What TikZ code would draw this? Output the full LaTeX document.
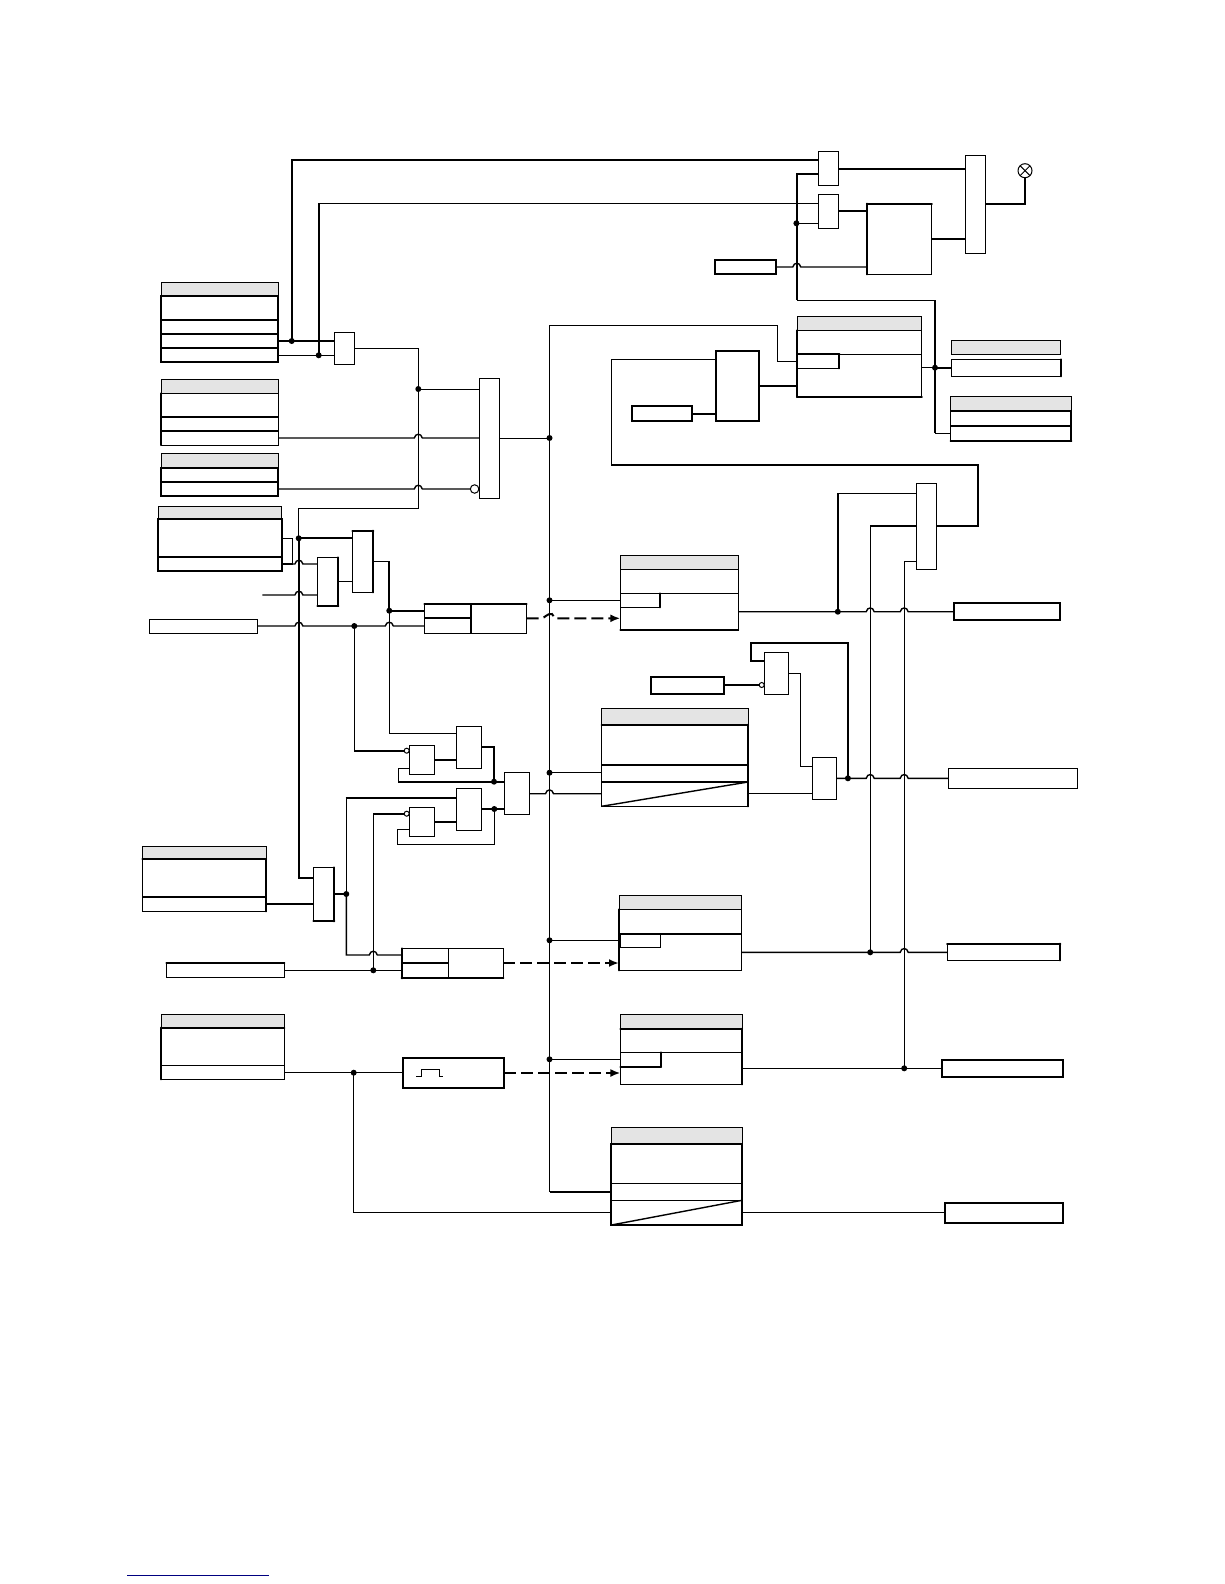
\documentclass[tikz,border=0pt]{standalone}
\usetikzlibrary{arrows.meta}
\definecolor{hdrgray}{HTML}{E4E4E4}
\definecolor{footnavy}{HTML}{000080}
\newcommand{\bx}[6][]{\node[boxn,#1,minimum width={(#4-#2)*1pt},minimum height={(#5-#3)*1pt}] (#6) at ({(#2+#4)/2},{(#3+#5)/2}) {};}
\newcommand{\hp}[2]{-- ({#1-4},{#2}) .. controls ({#1-3},{#2-5}) and ({#1+3},{#2-5}) .. ({#1+4},{#2})}
\newcommand{\jn}[3]{\node[jdot] (#1) at (#2,#3) {};}
\newcommand{\ed}[3]{\draw[lb,line cap=round] (#1.#2) -- (#1.#3);}
\newcommand{\dv}[3]{\draw[#3] (#1.west |- 0,#2) -- (#1.east |- 0,#2);}
\begin{document}
\begin{tikzpicture}[x=1pt,y=-1pt,
  boxn/.style={draw=black,fill=white,line width=1pt,inner sep=0pt,outer sep=0pt,rectangle},
  boxt/.style={line width=2pt},
  hdr/.style={fill=hdrgray},
  ln/.style={draw=black,line width=1pt,line join=miter},
  lm/.style={draw=black,line width=1.4pt,line join=miter},
  lb/.style={draw=black,line width=2pt,line join=miter},
  jdot/.style={circle,fill=black,draw=none,minimum size=6pt,inner sep=0pt,outer sep=0pt},
  ncirc/.style={circle,draw=black,fill=white,line width=1pt,inner sep=0pt,outer sep=0pt},
  dsh/.style={draw=black,line width=2pt,dash pattern=on 12pt off 5pt,-{Latex[length=10pt,width=8pt]}}]
\useasboundingbox (0,0) rectangle (1224,1584);
% ---------- left tables
\bx[hdr]{161.3}{282.7}{278.3}{295.3}{Ah}
\bx[boxt]{161.3}{295.5}{278}{361.7}{A}
\dv{A}{320}{lb}\dv{A}{333.7}{lb}\dv{A}{348}{lb}
\bx[hdr]{161.3}{379.3}{278.3}{393.3}{Bh}
\bx{161.3}{393.3}{278.3}{445}{B}
\ed{B}{north west}{south west}\dv{B}{416.7}{lb}\dv{B}{431}{lb}
\bx[hdr]{161.3}{453.3}{278.3}{467.7}{Ch}
\bx[boxt]{161.3}{467.7}{278.3}{496}{Cb}
\dv{Cb}{481.7}{lb}
\bx[hdr]{158.3}{506.7}{281.7}{519.3}{Dh}
\bx[boxt]{158}{519.3}{281.7}{571}{Db}
\dv{Db}{556.7}{lb}
\bx{149}{619.3}{257.7}{633.3}{F}
\bx[hdr]{142.3}{846.3}{266.2}{859.3}{Qh}
\bx{142.3}{859.3}{266.2}{911.3}{Q}
\ed{Q}{north west}{north east}\ed{Q}{north east}{south east}\dv{Q}{897}{lb}
\bx{166.3}{962.7}{284.3}{977.3}{T}
\ed{T}{north west}{north east}
\bx[hdr]{161.3}{1014.3}{284.3}{1027.7}{Uh}
\bx{161.3}{1027.7}{284.3}{1079.3}{U}
\ed{U}{north west}{north east}\ed{U}{north west}{south west}\dv{U}{1065.7}{ln}
% ---------- left gates
\bx{334.3}{332.3}{354.3}{364.3}{GA}
\bx{479.3}{378.3}{499.3}{498.3}{H}
\bx{317.3}{557.3}{338.3}{606}{E}
\ed{E}{north east}{south east}\ed{E}{south west}{south east}
\bx{352.3}{530.7}{373.3}{592.3}{J}
\ed{J}{north west}{north east}\ed{J}{north east}{south east}
\bx{424.3}{603.8}{526.7}{633.3}{K}
\ed{K}{north west}{north east}
\node[inner sep=0pt] (Kd) at (471,618.3) {};
\draw[lb] (K.north -| Kd) -- (K.south -| Kd);
\draw[lb] (K.west |- Kd) -- (Kd);
\bx{409.3}{745.3}{434.7}{774.3}{LA}
\bx{456.3}{726.3}{481.7}{768.3}{MA}
\bx{504.3}{772.3}{529.7}{814.3}{N}
\bx{409.3}{807.3}{434.7}{836.3}{LB}
\bx{456.3}{788.3}{481.7}{830.3}{MB}
\bx{313.3}{867.3}{334.3}{921.3}{R}
\ed{R}{north east}{south east}\ed{R}{south west}{south east}
\bx{401.7}{948.3}{503.3}{978.3}{S}
\ed{S}{north west}{south west}\ed{S}{south west}{south east}
\node[inner sep=0pt] (Sd) at (448.3,963.3) {};
\draw[ln] (S.north -| Sd) -- (S.south -| Sd);
\draw[lb] (S.west |- Sd) -- (Sd);
\bx[boxt]{402.7}{1058.3}{504.3}{1088}{V}
\draw[ln] (416,1076.7) -- (421,1076.7) -- (421,1069.3) -- (439,1069.3) -- (439,1076.7) -- (443.3,1076.7);
% ---------- top right
\bx{818.2}{151.3}{838.6}{185.3}{TGA}
\bx{818.2}{194.3}{838.6}{228.3}{TGB}
\bx{965.4}{155.3}{985.7}{253.3}{TGC}
\bx{866.8}{203.7}{931.8}{274.3}{Big}
\ed{Big}{north west}{north east}\ed{Big}{north west}{south west}
\bx[boxt]{714.6}{260}{776.4}{274.3}{Sm}
\node[ncirc,minimum size=14pt] (Lamp) at (1025,170.7) {};
\draw[ln] (Lamp.north west) -- (Lamp.south east);
\draw[ln] (Lamp.north east) -- (Lamp.south west);
\bx[hdr]{797.1}{316.3}{921.8}{330.3}{Yh}
\bx{797.1}{330.3}{921.8}{397}{Y}
\ed{Y}{north west}{south west}\ed{Y}{south west}{south east}\dv{Y}{354.3}{ln}
\bx{797.1}{354.3}{839.3}{368.3}{Ys}
\ed{Ys}{north east}{south east}\ed{Ys}{north west}{north east}
\bx[boxt]{716}{351}{759}{421}{Z}
\draw[ln] (Z.north west) -- (Z.south west);
\bx[boxt]{632}{406.3}{692}{421}{Zs}
\bx[hdr]{951.4}{340.3}{1060.7}{354.3}{ABh}
\bx{951.4}{359.3}{1060.7}{376.3}{AB}
\ed{AB}{north east}{south east}
\bx[hdr]{950.7}{396.3}{1071.4}{411}{ACh}
\bx{950.7}{411}{1071.4}{441}{AC}
\ed{AC}{north east}{south east}\ed{AC}{south west}{south east}\dv{AC}{411}{lb}\dv{AC}{425.7}{lb}
% ---------- mid right
\bx{916.4}{483.3}{936.7}{569.3}{AA}
\bx[hdr]{620.3}{555.3}{738}{569.3}{Wh}
\bx{620.3}{569.3}{738}{630}{W}
\ed{W}{south west}{south east}\dv{W}{593.3}{ln}
\bx{620.3}{593.3}{659.6}{607.3}{Ws}
\ed{Ws}{north east}{south east}
\bx[boxt]{954}{602.7}{1060.4}{620.3}{AD}
\bx{764.6}{652.3}{788.9}{694.3}{AE}
\bx[boxt]{650.7}{676.7}{724}{694.3}{AF}
\bx{812.5}{757.3}{836.8}{799.3}{AG}
\bx{948.2}{768.3}{1077.5}{788.3}{AH}
\bx[hdr]{601.6}{708.7}{748}{724.7}{Ph}
\bx{601.6}{724.7}{748}{806.3}{P}
\ed{P}{north west}{north east}\ed{P}{north east}{south east}\dv{P}{765}{lb}\dv{P}{782}{lb}
\draw[lm] (P.south west) -- (P.east |- 0,782);
% ---------- lower right
\bx[hdr]{619}{895.3}{741.4}{909.3}{Xh}
\bx{619}{909.3}{741.4}{970.3}{X}
\ed{X}{north west}{south west}\dv{X}{933.7}{lb}
\bx{620}{933.7}{660.7}{947.3}{Xs}
\ed{Xs}{north west}{north east}
\bx{947}{943.7}{1060.4}{960.3}{AI}
\ed{AI}{north west}{north east}\ed{AI}{north east}{south east}
\bx[hdr]{620.4}{1014.3}{742}{1028.7}{AJh}
\bx{620.4}{1028.7}{742}{1084.3}{AJ}
\ed{AJ}{north west}{north east}\ed{AJ}{north east}{south east}\dv{AJ}{1052.3}{ln}
\bx{620.4}{1052.3}{661}{1066.7}{AJs}
\ed{AJs}{north east}{south east}\ed{AJs}{south west}{south east}
\bx[boxt]{941.7}{1060}{1063.2}{1077}{AK}
\bx[hdr]{611.4}{1127.3}{742}{1143.7}{ALh}
\bx[boxt]{611.4}{1143.7}{742}{1225}{AL}
\dv{AL}{1183}{ln}\dv{AL}{1200.3}{ln}
\draw[lm] (AL.south west) -- (AL.east |- 0,1200.3);
\bx[boxt]{944.6}{1202.7}{1063.2}{1222.7}{AM}
% ---------- junction dots
\jn{da}{291.7}{341}\jn{db}{318.7}{355.3}\jn{dc}{418.3}{389}
\jn{dd}{298.7}{538.3}\jn{de}{354.3}{626}\jn{df}{389.3}{610.7}
\jn{dg}{494}{781.7}\jn{dh}{494.3}{809}\jn{di}{346.3}{894}
\jn{dj}{373.3}{970.3}\jn{dk}{353.7}{1072.7}
\jn{ba}{549.5}{438}\jn{bb}{549.5}{600.3}\jn{bc}{549.5}{772.7}\jn{bd}{549.5}{940.3}\jn{be}{549.5}{1059.3}
\jn{dl}{796.4}{223.3}\jn{dm}{935}{367.7}
\jn{dn}{837.8}{611.7}\jn{dp}{847.9}{778.3}\jn{dq}{870.2}{952.3}\jn{dr}{904.2}{1068.3}
% ---------- negation circles
\node[ncirc,minimum size=8.5pt] (cH) at (474.6,489) {};
\node[ncirc,minimum size=5pt] (cLA) at (406.7,750.7) {};
\node[ncirc,minimum size=5pt] (cLB) at (406.7,813.7) {};
\node[ncirc,minimum size=5pt] (cAE) at (761.7,685) {};
% ---------- connectors: upper left
\draw[lb] (A.east |- da) -- (GA.west |- da);
\draw[ln] (A.east |- db) -- (GA.west |- db);
\draw[lb] (da.center) -- (da.center |- 0,160) -- (TGA.west |- 0,160);
\draw[lb] (db.center) -- (db.center |- 0,203);
\draw[ln] (db.center |- 0,203) -- (TGB.west |- 0,203);
\draw[ln] (GA.east |- 0,348.3) -- (418.3,348.3) -- (418.3,508.3) -- (298.7,508.3) -- (dd.center);
\draw[lb] (dd.center) -- (298.7,878.3) -- (R.west |- 0,878.3);
\draw[ln] (dc.center) -- (H.west |- dc);
\draw[lm] (B.east |- 0,438) \hp{418.3}{438} -- (H.west |- 0,438);
\draw[lm] (Cb.east |- 0,489) \hp{418.3}{489} -- (cH);
\draw[ln] (H.east |- ba) -- (ba.center);
\draw[ln] (Db.east |- 0,538.3) -- (292.7,538.3) -- (292.7,564);
\draw[lb] (Db.east |- 0,564) -- (292.7,564);
\draw[lm] (292.7,564) \hp{298.9}{564} -- (E.west |- 0,564);
\coordinate (eb) at (262.3,595);
\draw[lm] (eb) \hp{298.9}{595} -- (E.west |- eb);
\draw[lb] (dd.center) -- (J.west |- dd);
\draw[ln] (E.east |- 0,581.3) -- (J.west |- 0,581.3);
\draw[ln] (J.east |- 0,561.3) -- (389.3,561.3);
\draw[lb] (389.3,561.3) -- (df.center);
\draw[lb] (df.center) -- (K.west |- df);
\draw[lm] (F.east |- de) \hp{298.9}{626} -- (de.center) \hp{389.3}{626} -- (K.west |- de);
\draw[ln] (de.center) -- (354.3,750.7);
\draw[lb] (354.3,750.7) -- (cLA);
\draw[ln] (df.center) -- (389.3,733.3) -- (MA.west |- 0,733.3);
% ---------- connectors: flip-flop group
\draw[lb] (LA.east |- 0,759.7) -- (MA.west |- 0,759.7);
\draw[lb] (MA.east |- 0,746.7) -- (494,746.7) -- (dg.center);
\draw[lb] (dg.center) -- (N.west |- dg);
\draw[lb] (dg.center) -- (398.3,781.7);
\draw[ln] (398.3,781.7) -- (398.3,768.3) -- (LA.west |- 0,768.3);
\draw[lm] (di.center) -- (346.3,798);
\draw[lb] (345.6,798) -- (MB.west |- 0,798);
\draw[lb] (373.3,813.7) -- (cLB);
\draw[ln] (dj.center) -- (373.3,813.7);
\draw[lb] (LB.east |- 0,822) -- (MB.west |- 0,822);
\draw[lb] (MB.east |- dh) -- (dh.center) -- (N.west |- dh);
\draw[ln] (dh.center) -- (494.3,844.3) -- (397.3,844.3) -- (397.3,829.3) -- (LB.west |- 0,829.3);
\draw[lm] (N.east |- 0,793.7) \hp{549.5}{793.7} -- (P.west |- 0,793.7);
\draw[lm] (bc.center) -- (P.west |- bc);
% ---------- connectors: lower left
\draw[lb] (Q.east |- 0,903.7) -- (R.west |- 0,903.7);
\draw[lm] (R.east |- di) -- (di.center);
\draw[lm] (di.center) -- (346.3,955) \hp{373.3}{955} -- (S.west |- 0,955);
\draw[lm] (T.east |- dj) -- (dj.center) -- (S.west |- dj);
\draw[lm] (U.east |- dk) -- (dk.center) -- (V.west |- dk);
\draw[ln] (dk.center) -- (353.7,1212.3) -- (AL.west |- 0,1212.3);
% ---------- dashed arrows
\draw[dsh] (K.east |- 0,618.3) -- (541,618.3) .. controls (545,618.3) and (547,613) .. (552,614) -- (555,618.3) -- (W.west |- 0,618.3);
\draw[dsh] (S.east |- 0,963) -- (X.west |- 0,963);
\draw[dsh] (V.east |- 0,1073) -- (AJ.west |- 0,1073);
% ---------- bus
\draw[ln] (Y.west |- 0,361.3) -- (777.5,361.3) -- (777.5,325.3) -- (549.5,325.3) -- (be.center);
\draw[ln] (be.center) -- (549.5,1191.7);
\draw[lb] (549.5,1191.7) -- (AL.west |- 0,1191.7);
\draw[ln] (bb.center) -- (W.west |- bb);
\draw[ln] (bd.center) -- (X.west |- bd);
\draw[ln] (be.center) -- (AJ.west |- be);
% ---------- connectors: top right
\draw[lb] (TGA.west |- 0,173.7) -- (796.8,173.7) -- (796.8,300.3);
\draw[ln] (796.8,300.3) -- (935,300.3);
\draw[lb] (935,300.3) -- (dm.center) -- (935,433.3);
\draw[ln] (935,433.3) -- (AC.west |- 0,433.3);
\draw[ln] (dl.center) -- (TGB.west |- dl);
\draw[lm] (TGA.east |- 0,169) -- (TGC.west |- 0,169);
\draw[lm] (TGB.east |- 0,211) -- (Big.west |- 0,211);
\draw[lb] (Big.east |- 0,238.7) -- (TGC.west |- 0,238.7);
\draw[lm] (Sm.east |- 0,267) \hp{796.8}{267} -- (Big.west |- 0,267);
\draw[lb] (TGC.east |- 0,203.7) -- (1025,203.7) -- (Lamp);
\draw[lm] (Y.east |- dm) -- (dm.center);
\draw[lb] (dm.center) -- (AB.west |- dm);
\draw[lm] (Z.east |- 0,386) -- (Y.west |- 0,386);
\draw[lb] (Zs.east |- 0,413.7) -- (Z.west |- 0,413.7);
\draw[ln] (Z.west |- 0,359.3) -- (611.4,359.3) -- (611.4,464.7);
\draw[lb] (611.4,464.7) -- (977.9,464.7) -- (977.9,525.7) -- (AA.east |- 0,525.7);
% ---------- connectors: right
\draw[ln] (AA.west |- 0,493.3) -- (837.8,493.3);
\draw[lb] (837.8,493.3) -- (dn.center);
\draw[lb] (AA.west |- 0,525.7) -- (870.2,525.7);
\draw[ln] (870.2,525.7) -- (dq.center);
\draw[ln] (AA.west |- 0,561) -- (904.2,561) -- (dr.center);
\draw[lm] (W.east |- dn) -- (dn.center) \hp{870.2}{611.7} \hp{904.2}{611.7} -- (AD.west |- dn);
\draw[lm] (AF.east |- cAE) -- (cAE);
\draw[lb] (AE.west |- 0,661) -- (751.4,661) -- (751.4,643) -- (847.9,643) -- (dp.center);
\draw[ln] (AE.east |- 0,673) -- (800.4,673) -- (800.4,766.3) -- (AG.west |- 0,766.3);
\draw[lm] (P.east |- 0,793.3) -- (AG.west |- 0,793.3);
\draw[lm] (AG.east |- dp) -- (dp.center) \hp{870.2}{778.3} \hp{904.2}{778.3} -- (AH.west |- dp);
\draw[lm] (X.east |- dq) -- (dq.center) \hp{904.2}{952.3} -- (AI.west |- dq);
\draw[lm] (AJ.east |- dr) -- (dr.center) -- (AK.west |- dr);
\draw[lm] (AL.east |- 0,1212.5) -- (AM.west |- 0,1212.5);
% ---------- footnote rule
\draw[draw=footnavy,line width=1pt] (127.3,1575) -- (269,1575);
\end{tikzpicture}
\end{document}
